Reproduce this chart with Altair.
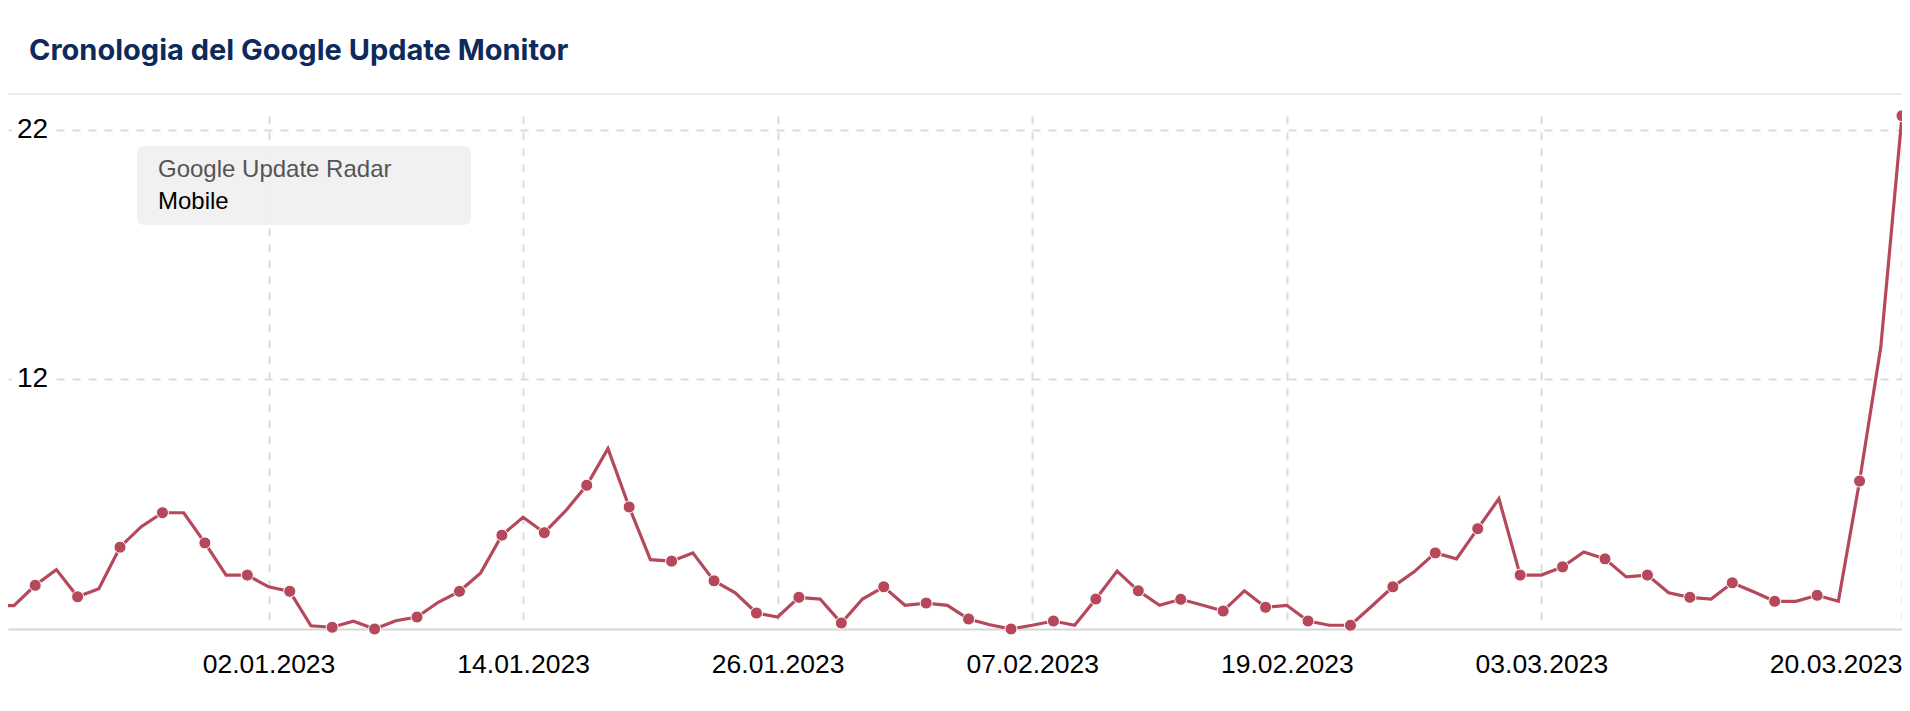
import altair as alt
import pandas as pd

# ---------------- data ----------------
TITLE = "Cronologia del Google Update Monitor"
SERIES_NAME = "Google Update Radar"
SERIES_LABEL = "Mobile"

start_date = "2022-12-20"   # first (partly off-screen) daily value
values = [
    2.94,                                                   # 20.12
    2.94, 3.75, 4.38, 3.29, 3.61, 5.28, 6.10, 6.66, 6.66, 5.45, 4.16,   # 21.12-31.12
    4.16, 3.69, 3.51, 2.13, 2.07, 2.31, 2.00, 2.33, 2.48, 3.07,         # 01.01-10.01
    3.51, 4.25, 5.76, 6.48, 5.86, 6.73, 7.76, 9.23, 6.89, 4.78,         # 11.01-20.01
    4.72, 5.05, 3.93, 3.45, 2.64, 2.48, 3.27, 3.20, 2.24, 3.20, 3.69,   # 21.01-31.01
    2.95, 3.04, 2.95, 2.40, 2.17, 2.00, 2.15, 2.32, 2.15, 3.20,         # 01.02-10.02
    4.32, 3.53, 2.95, 3.19, 2.96, 2.72, 3.53, 2.87, 2.95, 2.32,         # 11.02-20.02
    2.15, 2.15, 2.91, 3.69, 4.29, 5.05, 4.81, 6.02,                     # 21.02-28.02
    7.22, 4.16, 4.16, 4.49, 5.09, 4.81, 4.09, 4.16, 3.45, 3.27,         # 01.03-10.03
    3.20, 3.85, 3.49, 3.11, 3.11, 3.35, 3.11, 7.93, 13.30, 22.57,       # 11.03-20.03
]
x_tick_dates = ["2023-01-02", "2023-01-14", "2023-01-26", "2023-02-07",
                "2023-02-19", "2023-03-03", "2023-03-20"]
y_ticks = [12, 22]
y_tick_labels = ["12", "22"]
y_domain = [2, 22.56]
x_domain = ["2022-12-20T17:15:00Z", "2023-03-20T00:00:00Z"]

# ---------------- styling ----------------
LINE_COLOR = "#b5485b"
GRID_COLOR = "#dcdcdc"
W, H = 1894, 513

def ms(s):
    ts = pd.Timestamp(s)
    if ts.tzinfo is None:
        ts = ts.tz_localize("UTC")
    return int(ts.value // 10**6)

df = pd.DataFrame({
    "date": pd.date_range(start_date, periods=len(values), freq="D"),
    "value": values,
})
df["marker"] = ((df["date"] - pd.Timestamp("2023-01-01")).dt.days % 2 == 0)
df["date"] = df["date"].dt.strftime("%Y-%m-%d")

x_axis = alt.Axis(
    values=[ms(d) for d in x_tick_dates],
    format="%d.%m.%Y",
    labelFont="Liberation Sans",
    labelFontSize=26.5,
    labelColor="#000000",
    labelPadding=22,
    labelOverlap=False,
    labelFlush=True,
    ticks=False,
    domainColor="#d6d6d6",
    domainWidth=2,
    grid=True,
    gridColor=GRID_COLOR,
    gridDash=[8, 8],
    gridWidth=2,
    title=None,
)
y_axis = alt.Axis(
    values=y_ticks,
    labels=False,
    ticks=False,
    domain=False,
    grid=True,
    gridColor=GRID_COLOR,
    gridDash=[8, 8],
    gridWidth=2,
    title=None,
)
x_scale = alt.Scale(type="utc", domain=[ms(d) for d in x_domain])
y_scale = alt.Scale(domain=y_domain, nice=False, zero=False)

x_enc = alt.X("date:T", scale=x_scale, axis=x_axis)
y_enc = alt.Y("value:Q", scale=y_scale, axis=y_axis)

base = alt.Chart(df)
line = base.mark_line(color=LINE_COLOR, strokeWidth=3.2, clip=True).encode(x=x_enc, y=y_enc)
points = base.transform_filter("datum.marker").mark_circle(
    size=145, color=LINE_COLOR, opacity=1, stroke="white", strokeWidth=1
).encode(x=x_enc, y=y_enc)

yt = pd.DataFrame({"value": y_ticks, "label": y_tick_labels})
ylab_bg = alt.Chart(yt).mark_rule(color="white", strokeWidth=6).encode(
    x=alt.value(4), x2=alt.value(44), y=y_enc
)
ylab = alt.Chart(yt).mark_text(
    align="left", baseline="middle", font="Liberation Sans", fontSize=28, color="#000000"
).encode(x=alt.value(9), y=y_enc, text="label:N")

one = pd.DataFrame({"t": [TITLE], "s": [SERIES_NAME], "m": [SERIES_LABEL]})
title = alt.Chart(one).mark_text(
    align="left", baseline="middle", font="Inter", fontWeight="bold", fontSize=29, color="#0d2a5c"
).encode(x=alt.value(21), y=alt.value(-65), text="t:N")
header_rule = alt.Chart(one).mark_rule(color="#ececec", strokeWidth=2).encode(
    x=alt.value(0), x2=alt.value(W), y=alt.value(-22)
)
box = alt.Chart(one).mark_rect(fill="#eeeeee", opacity=0.85, cornerRadius=7).encode(
    x=alt.value(129), x2=alt.value(463), y=alt.value(30), y2=alt.value(109)
)
box_t1 = alt.Chart(one).mark_text(
    align="left", baseline="middle", font="Liberation Sans", fontSize=24, color="#555555"
).encode(x=alt.value(150), y=alt.value(54), text="s:N")
box_t2 = alt.Chart(one).mark_text(
    align="left", baseline="middle", font="Liberation Sans", fontSize=24, color="#000000"
).encode(x=alt.value(150), y=alt.value(86), text="m:N")

chart = alt.layer(
    line, points, ylab_bg, ylab, header_rule, title, box, box_t1, box_t2
).properties(
    width=W,
    height=H,
    autosize=alt.AutoSizeParams(type="none"),
    padding={"left": 0, "right": 0, "top": 108, "bottom": 72},
    background="white",
).configure_view(stroke=None)

chart.save("out.html", embed_options={"renderer": "svg", "actions": False})
